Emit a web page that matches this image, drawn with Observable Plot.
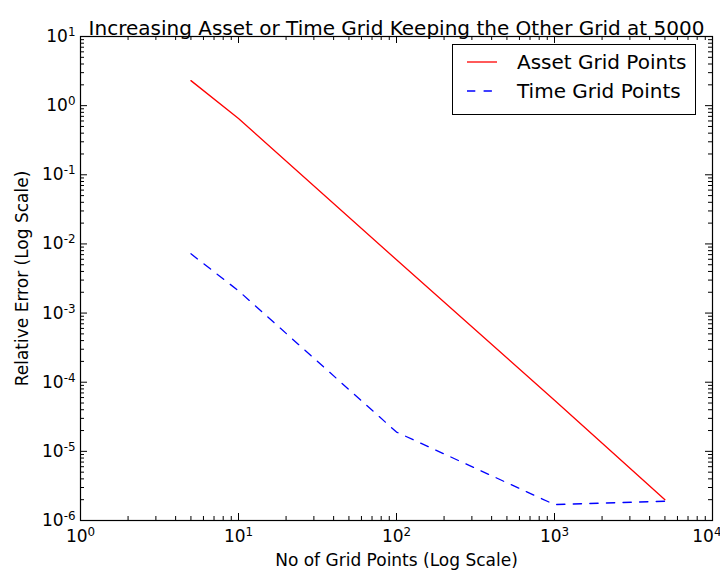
<!DOCTYPE html>
<html>
<head>
<meta charset="utf-8">
<script src="https://cdn.jsdelivr.net/npm/d3@7"></script>
<script src="https://cdn.jsdelivr.net/npm/@observablehq/plot@0.6"></script>
<style>
  body { margin: 0; background: #fff; }
  #wrap { position: relative; width: 720px; height: 572px; overflow: hidden; font-family: "DejaVu Sans", sans-serif; }
  #legend { position: absolute; left: 452px; top: 44px; width: 244px; height: 71px; border: 1px solid #000; background: #fff; box-sizing: border-box; }
  .row { position: absolute; left: 0; height: 24px; display: flex; align-items: center; font-size: 20px; color: #000; white-space: nowrap; }
  .row svg { margin-left: 14px; margin-right: 20px; }
</style>
</head>
<body>
<div id="wrap"></div>
<script>
// Data
const gridPoints = [5, 10, 100, 1000, 5000];
const assetError = [2.3, 0.65, 5.9e-3, 5.5e-5, 2.0e-6];
const timeError = [7.2e-3, 2.1e-3, 1.9e-5, 1.7e-6, 1.9e-6];
const seriesNames = ["Asset Grid Points", "Time Grid Points"];
const seriesColors = ["#ff0000", "#0000ff"];
const xMajor = [1, 10, 100, 1000, 10000];
const yMajor = [1e-6, 1e-5, 1e-4, 1e-3, 1e-2, 1e-1, 1, 10];
const titleText = "Increasing Asset or Time Grid Keeping the Other Grid at 5000";
const xLabel = "No of Grid Points (Log Scale)";
const yLabel = "Relative Error (Log Scale)";

// tick label "10|k" -> later rendered as 10 with a superscript k
const fmt = d => "10|" + Math.round(Math.log10(d));

function minors(major) {
  const out = [];
  for (let i = 0; i < major.length - 1; i++) for (let k = 2; k <= 9; k++) out.push(major[i] * k);
  return out;
}
const xMinor = minors(xMajor);
const yMinor = minors(yMajor);

const rows = [];
seriesNames.forEach((s, j) => {
  const vals = j === 0 ? assetError : timeError;
  gridPoints.forEach((g, i) => rows.push({x: g, y: vals[i], s}));
});

const W = 720, H = 572, mL = 80, mR = 8, mT = 36, mB = 52;
const iH = H - mT - mB, iW = W - mL - mR;
const MAJ = 7, MIN = 4;
const DASH = "8.3,8.3";

const chart = Plot.plot({
  width: W, height: H,
  marginLeft: mL, marginRight: mR, marginTop: mT, marginBottom: mB,
  x: {type: "log", domain: [1, 1e4]},
  y: {type: "log", domain: [1e-6, 10]},
  style: {fontFamily: "DejaVu Sans", fontSize: "17px", color: "#000", background: "#fff", overflow: "visible"},
  marks: [
    Plot.line(rows.filter(d => d.s === seriesNames[0]), {x: "x", y: "y", stroke: seriesColors[0], strokeWidth: 1.3}),
    Plot.line(rows.filter(d => d.s === seriesNames[1]), {x: "x", y: "y", stroke: seriesColors[1], strokeWidth: 1.3, strokeDasharray: DASH}),
    // inward ticks on all four sides
    Plot.tickX(xMajor, {x: d => d, insetTop: iH - MAJ, stroke: "#000"}),
    Plot.tickX(xMinor, {x: d => d, insetTop: iH - MIN, stroke: "#000"}),
    Plot.tickX(xMajor, {x: d => d, insetBottom: iH - MAJ, stroke: "#000"}),
    Plot.tickX(xMinor, {x: d => d, insetBottom: iH - MIN, stroke: "#000"}),
    Plot.tickY(yMajor, {y: d => d, insetRight: iW - MAJ, stroke: "#000"}),
    Plot.tickY(yMinor, {y: d => d, insetRight: iW - MIN, stroke: "#000"}),
    Plot.tickY(yMajor, {y: d => d, insetLeft: iW - MAJ, stroke: "#000"}),
    Plot.tickY(yMinor, {y: d => d, insetLeft: iW - MIN, stroke: "#000"}),
    Plot.frame({stroke: "#000", strokeWidth: 1.2}),
    Plot.axisX(xMajor, {anchor: "bottom", tickSize: 0, tickPadding: 9, tickFormat: fmt, label: null, fontSize: 17}),
    Plot.axisY(yMajor, {anchor: "left", tickSize: 0, tickPadding: 5, tickFormat: fmt, label: null, fontSize: 17}),
    Plot.text([xLabel], {frameAnchor: "bottom", dy: 45, fontSize: 17, text: d => d}),
    Plot.text([yLabel], {frameAnchor: "left", dx: -58, rotate: -90, textAnchor: "middle", fontSize: 17, text: d => d}),
    Plot.text([titleText], {frameAnchor: "top", dy: -16, fontSize: 20, text: d => d})
  ]
});

// render superscript exponents
const svgNS = "http://www.w3.org/2000/svg";
chart.querySelectorAll("text").forEach(t => {
  const s = t.textContent;
  if (!s.includes("|")) return;
  const [base, exp] = s.split("|");
  t.textContent = "";
  const b = document.createElementNS(svgNS, "tspan");
  b.textContent = base;
  const e = document.createElementNS(svgNS, "tspan");
  e.textContent = exp;
  e.setAttribute("dy", "-0.5em");
  e.setAttribute("font-size", "0.7em");
  t.appendChild(b);
  t.appendChild(e);
  if (exp === "4") { t.setAttribute("text-anchor", "end"); t.setAttribute("dx", "9"); }
});

const wrap = document.getElementById("wrap");
wrap.appendChild(chart);

const legend = document.createElement("div");
legend.id = "legend";
seriesNames.forEach((name, i) => {
  const row = document.createElement("div");
  row.className = "row";
  row.style.top = (5 + i * 29) + "px";
  const dash = i === 1 ? `stroke-dasharray="${DASH}"` : '';
  row.innerHTML = `<svg width="30" height="4"><line x1="0" y1="2" x2="30" y2="2" stroke="${seriesColors[i]}" stroke-width="1.3" ${dash}/></svg><span>${name}</span>`;
  legend.appendChild(row);
});
wrap.appendChild(legend);
</script>
</body>
</html>
